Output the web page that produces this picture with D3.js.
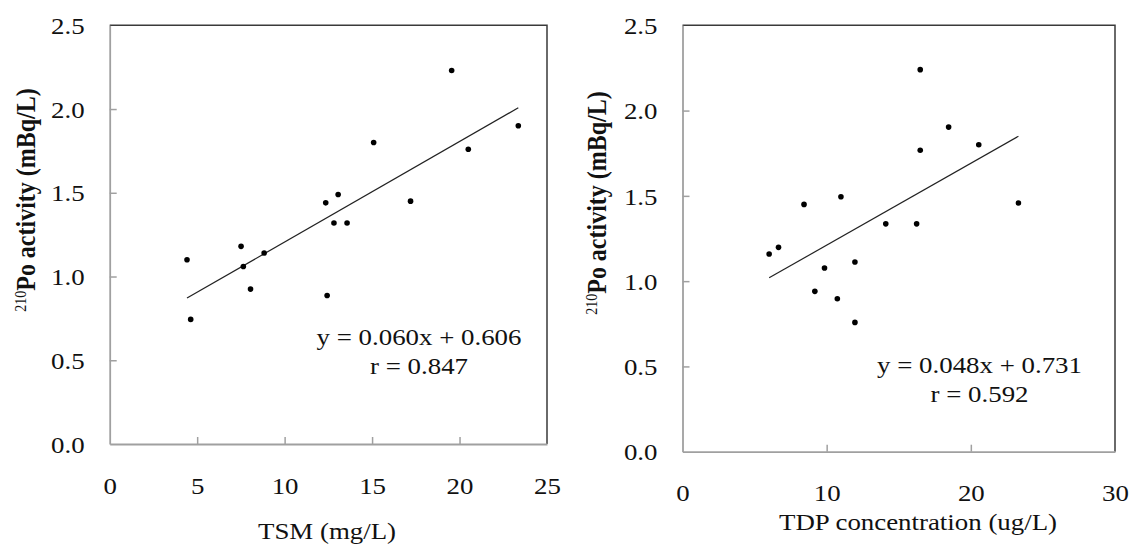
<!DOCTYPE html>
<html>
<head>
<meta charset="utf-8">
<script src="https://cdn.jsdelivr.net/npm/d3@7"></script>
<style>
  body { margin: 0; background: #fff; }
  svg text { font-family: "Liberation Serif", "Times New Roman", serif; fill: #111; }
</style>
</head>
<body>
<svg></svg>
<script>
// left panel: TSM vs 210Po
let tsm = [4.42, 7.51, 7.64, 8.83, 12.35, 13.06, 12.82, 13.57, 15.09, 17.2, 19.55, 20.5, 23.36, 4.63, 8.05, 12.43]
let poTsm = [1.10, 1.18, 1.06, 1.14, 1.44, 1.49, 1.32, 1.32, 1.80, 1.45, 2.23, 1.76, 1.90, 0.744, 0.925, 0.887]
let fitTsm = [0.060, 0.606]
let xTicksL = [0, 5, 10, 15, 20, 25]

// right panel: TDP vs 210Po
let tdp = [6.01, 6.66, 8.43, 10.99, 9.85, 11.96, 14.1, 16.24, 16.49, 16.49, 18.46, 20.55, 23.3, 9.18, 10.74, 11.96]
let poTdp = [1.159, 1.198, 1.45, 1.495, 1.077, 1.112, 1.336, 1.336, 2.24, 1.767, 1.903, 1.80, 1.458, 0.94, 0.897, 0.758]
let fitTdp = [0.048, 0.731]
let xTicksR = [0, 10, 20, 30]

let yTicks = [0, 0.5, 1.0, 1.5, 2.0, 2.5]

let width = 1132
let height = 550
let sx = 1.12   // text in the reference is a bit stretched sideways
let fs = 24

let svg = d3.select("svg").attr("width", width).attr("height", height)

let txt = (g, x, y, s, anchor, size) => {
  return g.append("text")
    .attr("transform", "translate(" + x + "," + y + ") scale(" + sx + ",1)")
    .attr("text-anchor", anchor)
    .style("font-size", (size || fs) + "px")
    .text(s)
}

let drawPanel = (p) => {
  let g = svg.append("g")
  let xScale = d3.scaleLinear().domain([0, p.xMax]).range([p.left, p.right])
  let yScale = d3.scaleLinear().domain([0, 2.5]).range([p.bottom, p.top])

  // dark frame on top and right
  g.append("path")
    .attr("d", "M" + p.left + "," + p.top + "H" + p.right + "V" + p.bottom)
    .attr("fill", "none")
    .attr("stroke", "#3a3a3a")
    .attr("stroke-width", 1.5)

  let xAxis = d3.axisBottom(xScale).tickValues(p.xTicks).tickSizeInner(-7).tickSizeOuter(0).tickFormat(d3.format("d"))
  let yAxis = d3.axisLeft(yScale).tickValues(yTicks).tickSizeInner(-7).tickSizeOuter(0).tickFormat(d3.format(".1f"))

  let gx = g.append("g").attr("transform", "translate(0," + p.bottom + ")").call(xAxis)
  let gy = g.append("g").attr("transform", "translate(" + p.left + ",0)").call(yAxis)

  for (let ax of [gx, gy]) {
    ax.select(".domain").attr("stroke", "#a0a0a0").attr("stroke-width", 1.8)
    ax.selectAll(".tick line").attr("stroke", "#a0a0a0").attr("stroke-width", 1.5)
    ax.selectAll(".tick text")
      .attr("fill", "#111")
      .style("font-size", fs + "px")
      .style("font-family", '"Liberation Serif", "Times New Roman", serif')
  }
  gx.selectAll(".tick").filter(d => d === 0 || d === p.xMax).select("line").remove()
  gy.selectAll(".tick").filter(d => d === 0 || d === 2.5).select("line").remove()

  gx.selectAll(".tick text")
    .attr("y", p.xLabelY)
    .attr("dy", null)
    .attr("transform", "scale(" + sx + ",1)")
  gy.selectAll(".tick text")
    .attr("x", -25 / sx)
    .attr("dy", "0.34em")
    .attr("transform", "scale(" + sx + ",1)")

  // trend line
  let x0 = d3.min(p.xs), x1 = d3.max(p.xs)
  g.append("line")
    .attr("x1", xScale(x0)).attr("y1", yScale(p.fit[0] * x0 + p.fit[1]))
    .attr("x2", xScale(x1)).attr("y2", yScale(p.fit[0] * x1 + p.fit[1]))
    .attr("stroke", "#222")
    .attr("stroke-width", 1.2)

  g.selectAll("circle")
    .data(p.xs)
    .enter()
    .append("circle")
    .attr("cx", d => xScale(d))
    .attr("cy", (d, i) => yScale(p.ys[i]))
    .attr("r", 2.8)
    .attr("fill", "#000")

  txt(g, p.eqX, p.eqY, "y = " + p.fit[0].toFixed(3) + "x + " + p.fit[1].toFixed(3), "middle")
  txt(g, p.eqX, p.eqY + 29, "r = " + p.r, "middle")

  txt(g, p.titleX, p.titleY, p.title, "middle")

  // rotated y title with superscript
  let yt = g.append("text")
    .attr("transform", "translate(" + p.yTitleX + "," + p.yTitleY + ") rotate(-90) scale(1," + sx + ")")
    .attr("text-anchor", "middle")
    .style("font-size", fs + "px")
  yt.append("tspan").style("font-size", "14px").attr("dy", -8).text("210")
  yt.append("tspan").attr("dy", 8).style("font-weight", "bold").text("Po activity (mBq/L)")
}

drawPanel({
  xs: tsm, ys: poTsm, fit: fitTsm, r: "0.847", xMax: 25, xTicks: xTicksL,
  left: 109.7, right: 547, top: 25.3, bottom: 444,
  xLabelY: 50, eqX: 419, eqY: 345,
  title: "TSM (mg/L)", titleX: 327, titleY: 539,
  yTitleX: 35, yTitleY: 200
})

drawPanel({
  xs: tdp, ys: poTdp, fit: fitTdp, r: "0.592", xMax: 30, xTicks: xTicksR,
  left: 682.5, right: 1115, top: 25.3, bottom: 451.7,
  xLabelY: 49, eqX: 979.5, eqY: 373,
  title: "TDP concentration (ug/L)", titleX: 918, titleY: 530,
  yTitleX: 606, yTitleY: 203
})
</script>
</body>
</html>
